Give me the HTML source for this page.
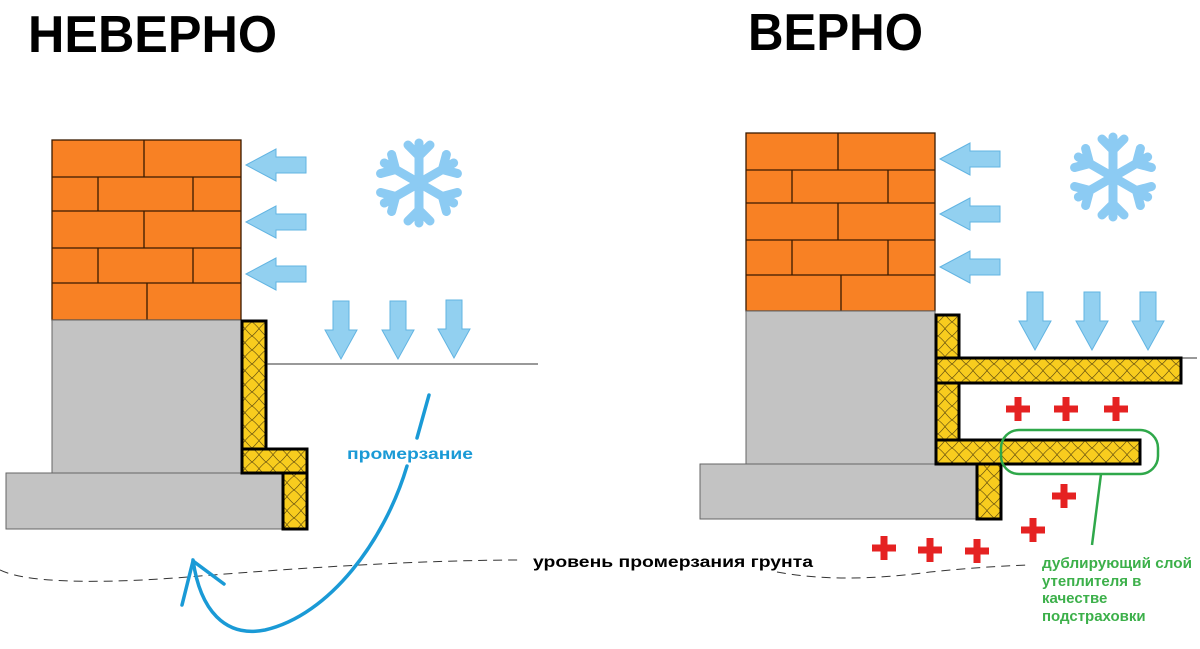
<!DOCTYPE html>
<html><head><meta charset="utf-8"><style>
html,body{margin:0;padding:0;background:#fff;}
svg{display:block;}
</style></head><body>
<svg width="1200" height="649" viewBox="0 0 1200 649" xmlns="http://www.w3.org/2000/svg">
<defs>
<pattern id="ins" width="14" height="14" patternUnits="userSpaceOnUse">
<rect width="14" height="14" fill="#f8cc1e"/>
<path d="M0 0 C5 3 9 10 14 14 M14 0 C9 3 5 10 0 14" stroke="#6a5410" stroke-width="0.7" fill="none"/>
</pattern>
<g id="snow" stroke="#8ccbf3" stroke-width="9" stroke-linecap="round" fill="none">
<g id="arm"><path d="M0 0 L0 -40 M0 -27 L-11 -38 M0 -27 L11 -38"/></g>
<use href="#arm" transform="rotate(60)"/><use href="#arm" transform="rotate(120)"/>
<use href="#arm" transform="rotate(180)"/><use href="#arm" transform="rotate(240)"/><use href="#arm" transform="rotate(300)"/>
</g>
<g id="larr"><path d="M0 0 L30 -16 L30 -8 L60 -8 L60 8 L30 8 L30 16 Z" fill="#92d0f0" stroke="#62b4e2" stroke-width="1"/></g>
<g id="darr"><path d="M0 0 L-16 -29 L-8 -29 L-8 -58 L8 -58 L8 -29 L16 -29 Z" fill="#92d0f0" stroke="#62b4e2" stroke-width="1"/></g>
<g id="plus"><path d="M-3.5 -12 H3.5 V-3.5 H12 V3.5 H3.5 V12 H-3.5 V3.5 H-12 V-3.5 H-3.5 Z" fill="#e52222"/></g>
</defs>

<text x="28" y="52" font-family="Liberation Sans, sans-serif" font-weight="bold" font-size="52" textLength="249" lengthAdjust="spacingAndGlyphs" fill="#000">НЕВЕРНО</text>
<text x="748" y="50" font-family="Liberation Sans, sans-serif" font-weight="bold" font-size="52" textLength="175" lengthAdjust="spacingAndGlyphs" fill="#000">ВЕРНО</text>

<!-- LEFT -->
<g stroke="#3a1a00" stroke-width="1.3">
<rect x="52" y="140" width="189" height="180" fill="#f88124"/>
<path d="M52 177H241M52 211H241M52 248H241M52 283H241 M144 140V177 M98 177V211 M193 177V211 M144 211V248 M98 248V283 M193 248V283 M147 283V320" fill="none"/>
</g>
<rect x="52" y="320" width="189" height="153" fill="#c3c3c3" stroke="#666" stroke-width="1"/>
<rect x="6" y="473" width="277" height="56" fill="#c3c3c3" stroke="#666" stroke-width="1"/>
<g stroke="#000" stroke-width="3" fill="url(#ins)">
<rect x="242" y="321" width="24" height="128"/>
<rect x="242" y="449" width="65" height="24"/>
<rect x="283" y="473" width="24" height="56"/>
</g>
<line x1="267" y1="364" x2="538" y2="364" stroke="#333" stroke-width="1"/>
<use href="#larr" x="246" y="165"/><use href="#larr" x="246" y="222"/><use href="#larr" x="246" y="274"/>
<use href="#darr" x="341" y="359"/><use href="#darr" x="398" y="359"/><use href="#darr" x="454" y="358"/>
<use href="#snow" transform="translate(419,183)"/>
<path d="M0 570 C30 585 120 583 200 576 C300 568 420 560 522 560" stroke="#333" stroke-width="1" stroke-dasharray="9 6" fill="none"/>
<path d="M777 572 C820 580 870 580 930 572 C970 568 1000 566 1027 565" stroke="#333" stroke-width="1" stroke-dasharray="9 6" fill="none"/>
<text x="347" y="459" font-family="Liberation Sans, sans-serif" font-weight="bold" font-size="16" fill="#1a9ad6" textLength="126" lengthAdjust="spacingAndGlyphs">промерзание</text>
<g stroke="#1a9ad6" stroke-width="3.5" fill="none" stroke-linecap="round">
<path d="M429 395 L417 438"/>
<path d="M407 466 C385 540 330 615 265 630 C225 638 200 610 193 560"/>
<path d="M182 605 L193 561 L224 584"/>
</g>
<text x="533" y="567" font-family="Liberation Sans, sans-serif" font-weight="bold" font-size="16" fill="#000" textLength="280" lengthAdjust="spacingAndGlyphs">уровень промерзания грунта</text>

<!-- RIGHT -->
<g stroke="#3a1a00" stroke-width="1.3">
<rect x="746" y="133" width="189" height="178" fill="#f88124"/>
<path d="M746 170H935M746 203H935M746 240H935M746 275H935 M838 133V170 M792 170V203 M888 170V203 M838 203V240 M792 240V275 M888 240V275 M841 275V311" fill="none"/>
</g>
<rect x="746" y="311" width="189" height="153" fill="#c3c3c3" stroke="#666" stroke-width="1"/>
<rect x="700" y="464" width="277" height="55" fill="#c3c3c3" stroke="#666" stroke-width="1"/>
<line x1="959" y1="358" x2="1197" y2="358" stroke="#333" stroke-width="1"/>
<g stroke="#000" stroke-width="3" fill="url(#ins)">
<rect x="936" y="315" width="23" height="43"/>
<rect x="936" y="358" width="245" height="25"/>
<rect x="936" y="383" width="23" height="57"/>
<rect x="936" y="440" width="204" height="24"/>
<rect x="977" y="464" width="24" height="55"/>
</g>
<use href="#larr" x="940" y="159"/><use href="#larr" x="940" y="214"/><use href="#larr" x="940" y="267"/>
<use href="#darr" x="1035" y="350"/><use href="#darr" x="1092" y="350"/><use href="#darr" x="1148" y="350"/>
<use href="#snow" transform="translate(1113,177)"/>
<use href="#plus" x="1018" y="409"/><use href="#plus" x="1066" y="409"/><use href="#plus" x="1116" y="409"/>
<use href="#plus" x="1064" y="496"/><use href="#plus" x="1033" y="530"/>
<use href="#plus" x="884" y="548"/><use href="#plus" x="930" y="550"/><use href="#plus" x="977" y="551"/>
<rect x="1001" y="430" width="157" height="44" rx="18" fill="none" stroke="#2fa84a" stroke-width="2.5"/>
<line x1="1101" y1="474" x2="1092" y2="545" stroke="#2fa84a" stroke-width="2.5"/>
<g font-family="Liberation Sans, sans-serif" font-weight="bold" font-size="15" fill="#3cb04a">
<text x="1042" y="568" textLength="150" lengthAdjust="spacingAndGlyphs">дублирующий слой</text>
<text x="1042" y="586">утеплителя в</text>
<text x="1042" y="603">качестве</text>
<text x="1042" y="621">подстраховки</text>
</g>
</svg>
</body></html>
